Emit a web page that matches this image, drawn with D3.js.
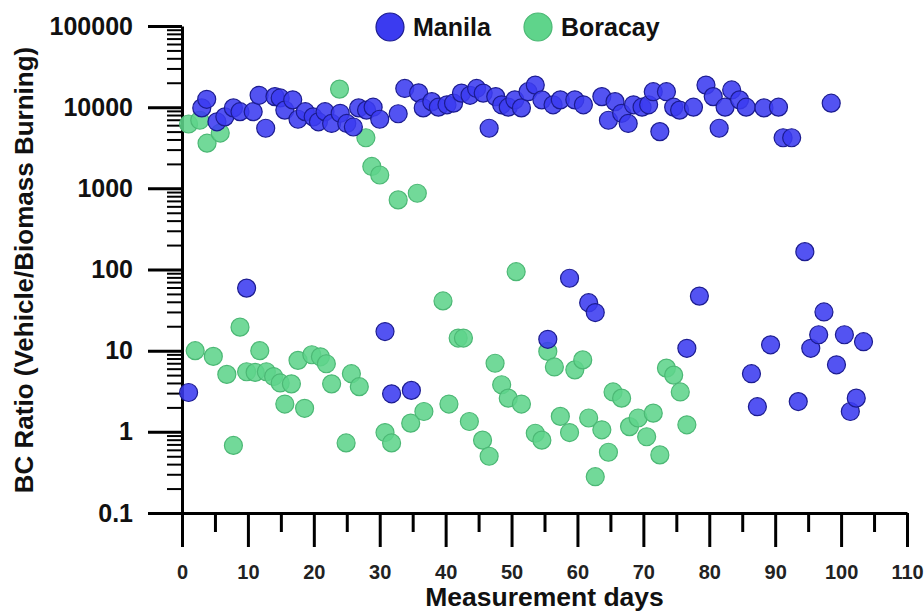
<!DOCTYPE html>
<html>
<head>
<meta charset="utf-8">
<script src="https://cdn.jsdelivr.net/npm/d3@7"></script>
<style>
  body { margin: 0; background: #fff; }
  text { font-family: "Liberation Sans", Arial, sans-serif; font-weight: bold; }
</style>
</head>
<body>
<div id="scatter"></div>
<script>
const manilaDays = [1, 3, 3.75, 5.3, 6.5, 7.8, 8.8, 9.8, 10.8, 11.7, 12.7, 14.1, 14.9, 15.6, 16.8, 17.6, 18.7, 19.9,
  20.7, 21.7, 22.7, 24, 25, 26, 26.8, 28, 29, 30, 30.8, 31.8, 32.8, 33.8, 34.8, 35.9, 36.6, 37.9, 38.9, 40.2,
  41.2, 42.4, 43.7, 44.7, 45.7, 46.6, 47.6, 48.5, 49.5, 50.5, 51.5, 52.5, 53.6, 54.6, 55.5, 56.3, 57.4, 58.8,
  59.6, 60.9, 61.7, 62.7, 63.7, 64.7, 65.7, 66.7, 67.7, 68.5, 69.8, 70.8, 71.5, 72.5, 73.5, 74.6, 75.5, 76.6,
  77.6, 78.5, 79.5, 80.6, 81.5, 82.4, 83.4, 84.6, 85.6, 86.4, 87.3, 88.3, 89.3, 90.5, 91.2, 92.5, 93.5, 94.5,
  95.4, 96.6, 97.4, 98.5, 99.3, 100.5, 101.4, 102.3, 103.4];
const manilaRatio = [3.05, 9800, 12500, 6600, 7600, 9800, 8800, 59, 8800, 14000, 5500, 13500, 13000, 9200, 12300, 7100, 8800, 7600,
  6600, 8800, 6300, 8400, 6300, 5700, 9800, 9200, 10000, 7100, 17.2, 2.94, 8300, 17000, 3.24, 15000, 9800, 11700, 10000, 10700,
  11200, 14900, 14000, 17000, 14900, 5500, 13500, 10700, 10000, 12300, 9800, 15500, 18700, 12300, 13.8, 10700, 12300, 78,
  12300, 10700, 39, 29.5, 13500, 6900, 11700, 8400, 6300, 10700, 10000, 10700, 15500, 5000, 15500, 10000, 9200, 10.7,
  10000, 47, 18700, 13500, 5500, 10000, 16300, 12300, 10000, 5.2, 2.04, 9800, 11.8, 10000, 4200, 4200, 2.36, 166,
  10.7, 15.7, 30, 11200, 6.7, 15.7, 1.78, 2.6, 12.9];

const boracayDays = [1, 2, 2.7, 3.8, 4.75, 5.8, 6.8, 7.8, 8.8, 9.8, 11.1, 11.8, 12.8, 13.9, 14.9, 15.6, 16.6, 17.6,
  18.6, 19.7, 21, 21.9, 22.7, 23.9, 24.9, 25.7, 26.9, 27.9, 28.8, 30, 30.8, 31.8, 32.8, 34.7, 35.7, 36.7, 39.6,
  40.5, 41.9, 42.7, 43.6, 45.6, 46.6, 47.5, 48.5, 49.5, 50.7, 51.5, 53.6, 54.6, 55.5, 56.5, 57.4, 58.8, 59.6,
  60.8, 61.7, 62.7, 63.7, 64.7, 65.4, 66.7, 67.9, 69.2, 70.5, 71.5, 72.5, 73.5, 74.6, 75.6, 76.6];
const boracayRatio = [6200, 10, 6900, 3600, 8.5, 4800, 5.1, 0.68, 19.5, 5.5, 5.4, 10, 5.5, 4.8, 4.0, 2.2, 3.9, 7.6,
  1.95, 8.9, 8.4, 6.9, 3.9, 16700, 0.73, 5.2, 3.6, 4200, 1860, 1460, 0.98, 0.73, 720, 1.28, 870, 1.78, 41,
  2.2, 14.3, 14.3, 1.34, 0.79, 0.5, 7.0, 3.8, 2.6, 94, 2.2, 0.96, 0.79, 9.8, 6.3, 1.55, 0.98, 5.8,
  7.7, 1.48, 0.28, 1.06, 0.56, 3.1, 2.6, 1.16, 1.48, 0.87, 1.7, 0.52, 6.1, 5.0, 3.1, 1.22];

const xMajorTicks = [0, 10, 20, 30, 40, 50, 60, 70, 80, 90, 100, 110];
const xMinorTicks = [5, 15, 25, 35, 45, 55, 65, 75, 85, 95, 105];
const yMajorTicks = [0.1, 1, 10, 100, 1000, 10000, 100000];

// SVG area and margins
const svgWidth = 924;
const svgHeight = 613;
const margin = { top: 26, right: 17, bottom: 100, left: 182 };
const chartWidth = svgWidth - margin.left - margin.right;
const chartHeight = svgHeight - margin.top - margin.bottom;

const svg = d3.select("#scatter")
  .append("svg")
  .attr("width", svgWidth)
  .attr("height", svgHeight);

const chartGroup = svg.append("g")
  .attr("transform", `translate(${margin.left}, ${margin.top})`);

// scales
const xScale = d3.scaleLinear().domain([0, 110]).range([0, chartWidth]);
const yScale = d3.scaleLog().domain([0.1, 100000]).range([chartHeight, 0]);

// minor y ticks 2..9 in every decade
const yMinorTicks = [];
yMajorTicks.slice(0, -1).forEach(d => {
  for (let k = 2; k <= 9; k++) yMinorTicks.push(+(d * k).toPrecision(3));
});

// y axis
chartGroup.append("g")
  .attr("class", "axis")
  .call(d3.axisLeft(yScale).tickValues(yMinorTicks).tickSize(15).tickSizeOuter(0).tickFormat(""))
  .call(g => g.select(".domain").remove())
  .call(g => g.selectAll("line").attr("stroke-width", 2));

chartGroup.append("g")
  .attr("class", "axis")
  .call(d3.axisLeft(yScale).tickValues(yMajorTicks).tickSize(34).tickSizeOuter(0).tickPadding(15)
    .tickFormat(d3.format("")))
  .call(g => g.select(".domain").attr("stroke-width", 3))
  .call(g => g.selectAll("line").attr("stroke-width", 3))
  .call(g => g.selectAll("text").attr("font-size", 25).attr("fill", "#111"));

// x axis
chartGroup.append("g")
  .attr("transform", `translate(0, ${chartHeight})`)
  .call(d3.axisBottom(xScale).tickValues(xMinorTicks).tickSize(19).tickSizeOuter(0).tickFormat(""))
  .call(g => g.select(".domain").remove())
  .call(g => g.selectAll("line").attr("stroke-width", 3));

chartGroup.append("g")
  .attr("transform", `translate(0, ${chartHeight})`)
  .call(d3.axisBottom(xScale).tickValues(xMajorTicks).tickSize(34).tickSizeOuter(0).tickPadding(18))
  .call(g => g.select(".domain").attr("stroke-width", 3))
  .call(g => g.selectAll("line").attr("stroke-width", 3))
  .call(g => g.selectAll("text").attr("font-size", 20).attr("fill", "#222"));

// points (Boracay under Manila)
const series = [
  { name: "Boracay", days: boracayDays, vals: boracayRatio, fill: "#5fd48b", stroke: "#4cb875" },
  { name: "Manila", days: manilaDays, vals: manilaRatio, fill: "#3b3bf0", stroke: "#1c1c90" }
];

series.forEach(s => {
  chartGroup.append("g")
    .selectAll("circle")
    .data(s.days.map((d, i) => ({ day: d, val: s.vals[i] })))
    .enter()
    .append("circle")
    .attr("cx", d => xScale(d.day))
    .attr("cy", d => yScale(d.val))
    .attr("r", 9)
    .attr("fill", s.fill)
    .attr("fill-opacity", 0.88)
    .attr("stroke", s.stroke)
    .attr("stroke-width", 1.2);
});

// legend
const legend = [
  { name: "Manila", cx: 390, fill: "#3b3bf0", stroke: "#1c1c90" },
  { name: "Boracay", cx: 538, fill: "#5fd48b", stroke: "#4cb875" }
];
legend.forEach(l => {
  svg.append("circle")
    .attr("cx", l.cx).attr("cy", 27).attr("r", 14)
    .attr("fill", l.fill).attr("stroke", l.stroke).attr("stroke-width", 1.2);
  svg.append("text")
    .attr("x", l.cx + 23).attr("y", 36)
    .attr("font-size", 25).attr("fill", "#111")
    .text(l.name);
});

// axis labels
svg.append("text")
  .attr("transform", "rotate(-90)")
  .attr("x", -270)
  .attr("y", 33)
  .attr("text-anchor", "middle")
  .attr("font-size", 26)
  .attr("fill", "#111")
  .text("BC Ratio (Vehicle/Biomass Burning)");

svg.append("text")
  .attr("x", margin.left + chartWidth / 2)
  .attr("y", 606)
  .attr("text-anchor", "middle")
  .attr("font-size", 26.5)
  .attr("fill", "#111")
  .text("Measurement days");
</script>
</body>
</html>
